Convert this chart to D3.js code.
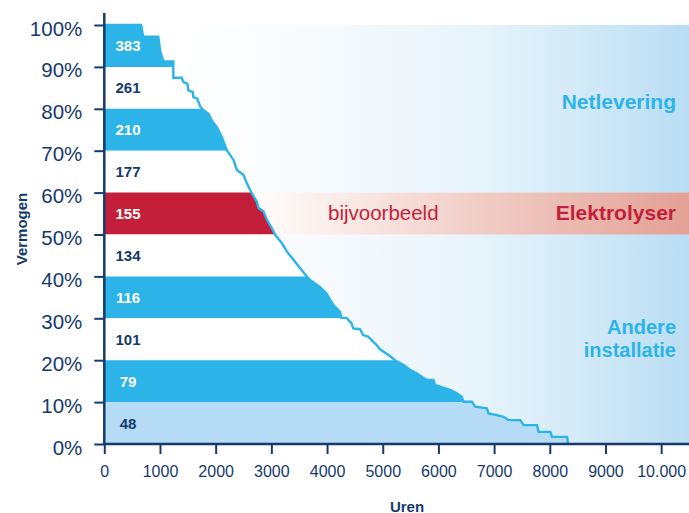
<!DOCTYPE html>
<html>
<head>
<meta charset="utf-8">
<script src="https://cdn.jsdelivr.net/npm/d3@7/dist/d3.min.js"></script>
<style>
  html, body { margin: 0; padding: 0; background: #fff; }
  svg { display: block; font-family: "Liberation Sans", Arial, sans-serif; }
</style>
</head>
<body>
<svg id="chart" width="689" height="513"></svg>
<script>
// ---- Data ----
// Load duration curve: [hours, capacity %]
const curveHours = [0,660,700,970,1000,1060,1240,1240,1390,1420,1490,1510,1590,1600,1670,1720,1760,1870,1930,2020,2110,2200,2320,2380,2500,2560,2650,2740,2770,2860,2920,3010,3070,3190,3280,3400,3520,3640,3700,3870,3990,4110,4230,4260,4350,4440,4470,4590,4650,4740,4890,4950,5130,5220,5310,5400,5490,5610,5790,5910,5940,6030,6210,6330,6420,6450,6600,6660,6870,6900,7050,7170,7260,7470,7530,7770,7800,8010,8040,8310,8330];
const curvePct   = [100,100,97.2,97.2,94.0,91.3,91.3,87.4,87.4,86.4,86.0,84.4,84.0,82.8,82.4,80.6,79.9,78.8,77.2,75.6,73.3,70.1,67.8,65.4,64.2,62.2,59.8,57.8,56.3,55.5,53.5,51.5,49.9,47.9,45.9,43.9,41.9,39.9,39.1,37.5,35.9,33.2,31.6,30.1,30.1,28.8,27.6,27.4,26.0,25.6,23.6,22.6,21.0,20.0,19.3,18.6,17.7,16.9,15.3,15.3,14.1,13.7,12.9,12.1,11.3,10.1,10.1,8.9,8.5,7.3,6.9,6.5,5.7,5.7,4.5,4.5,2.9,2.9,1.7,1.7,0];

// Bands (10% capacity slices), lower bound %, label value, band type
const bandLow    = [90, 80, 70, 60, 50, 40, 30, 20, 10, 0];
const bandValues = [383, 261, 210, 177, 155, 134, 116, 101, 79, 48];
const bandType   = ["blue","white","blue","white","red","white","blue","white","blue","light"];

const xTicks = [0,1000,2000,3000,4000,5000,6000,7000,8000,9000,10000];
const yTicks = [0,10,20,30,40,50,60,70,80,90,100];

const regionLabels = ["Netlevering", "Elektrolyser", "Andere", "installatie"];
const exampleLabel = "bijvoorbeeld";
const xTitle = "Uren";
const yTitle = "Vermogen";

// ---- Styles ----
const NAVY = "#163a6c";
const BLUE = "#2cb4e8";
const RED = "#c41f3a";
const LIGHT = "#b5dcf4";
const fillFor = { blue: BLUE, white: "#ffffff", red: RED, light: LIGHT };
const textFor = { blue: "#ffffff", white: NAVY, red: "#ffffff", light: NAVY };

const svg = d3.select("#chart");
const x = d3.scaleLinear().domain([0, 10500]).range([104.3, 689]);
const y = d3.scaleLinear().domain([0, 100]).range([444, 25]);

const defs = svg.append("defs");
const bg = defs.append("linearGradient").attr("id", "bgGrad")
  .attr("gradientUnits", "userSpaceOnUse")
  .attr("x1", x(0)).attr("x2", 689).attr("y1", 0).attr("y2", 0);
[[0.12, "#ffffff"], [0.42, "#f4f9fd"], [0.63, "#e8f4fb"], [0.81, "#d3eaf7"], [1, "#b9ddf3"]]
  .forEach(s => bg.append("stop").attr("offset", s[0]).attr("stop-color", s[1]));

const rg = defs.append("linearGradient").attr("id", "redGrad")
  .attr("gradientUnits", "userSpaceOnUse")
  .attr("x1", 270).attr("x2", 689).attr("y1", 0).attr("y2", 0);
rg.append("stop").attr("offset", "0").attr("stop-color", "#fefaf9");
rg.append("stop").attr("offset", "1").attr("stop-color", "#e3a094");

// background
svg.append("rect")
  .attr("x", x(0)).attr("y", y(100))
  .attr("width", 689 - x(0)).attr("height", y(0) - y(100))
  .attr("fill", "url(#bgGrad)");

// electrolyser band background
svg.append("rect")
  .attr("x", x(0)).attr("y", y(60))
  .attr("width", 689 - x(0)).attr("height", y(50) - y(60))
  .attr("fill", "url(#redGrad)");

const pts = curveHours.map((h, i) => [h, curvePct[i]]);
const area = d3.area()
  .y(d => y(d[1]))
  .x0(x(0))
  .x1(d => x(d[0]));

bandLow.forEach((lo, i) => {
  const id = "clip" + i;
  defs.append("clipPath").attr("id", id)
    .append("rect")
    .attr("x", x(0)).attr("y", y(lo + 10))
    .attr("width", 689 - x(0)).attr("height", y(lo) - y(lo + 10));
  svg.append("path")
    .datum(pts)
    .attr("d", area)
    .attr("fill", fillFor[bandType[i]])
    .attr("clip-path", `url(#${id})`);
});

// curve line
const line = d3.line().x(d => x(d[0])).y(d => y(d[1]));
svg.append("path")
  .datum(pts)
  .attr("d", line)
  .attr("fill", "none")
  .attr("stroke", BLUE)
  .attr("stroke-width", 2.4)
  .attr("stroke-linejoin", "miter");

// band value labels
svg.append("g").selectAll("text")
  .data(bandValues)
  .join("text")
  .attr("x", 128)
  .attr("y", (d, i) => (y(bandLow[i]) + y(bandLow[i] + 10)) / 2 + 5.5)
  .attr("text-anchor", "middle")
  .attr("font-size", 15)
  .attr("font-weight", "bold")
  .attr("fill", (d, i) => textFor[bandType[i]])
  .text(d => d);

// axes
const yAxis = d3.axisLeft(y).tickValues(yTicks).tickSize(10).tickSizeOuter(0)
  .tickFormat(d => d + "%");
const gy = svg.append("g").attr("transform", `translate(${x(0)},0)`).call(yAxis);
gy.select(".domain").remove();
gy.selectAll(".tick line").attr("stroke", NAVY).attr("stroke-width", 2);
gy.selectAll(".tick text")
  .attr("x", -22).attr("dy", 10)
  .attr("font-size", 20.5).attr("fill", NAVY)
  .attr("font-family", "'Liberation Sans', Arial, sans-serif");
svg.append("line")
  .attr("x1", x(0)).attr("x2", x(0))
  .attr("y1", y(0) + 1).attr("y2", 13)
  .attr("stroke", NAVY).attr("stroke-width", 2.5);

const xAxis = d3.axisBottom(x).tickValues(xTicks).tickSize(10).tickSizeOuter(0)
  .tickFormat(d => d === 10000 ? "10.000" : String(d));
const gx = svg.append("g").attr("transform", `translate(0,${y(0)})`).call(xAxis);
gx.select(".domain").remove();
gx.selectAll(".tick line").attr("stroke", NAVY).attr("stroke-width", 2);
gx.selectAll(".tick text")
  .attr("y", 33).attr("dy", 0)
  .attr("font-size", 16).attr("fill", NAVY)
  .attr("font-family", "'Liberation Sans', Arial, sans-serif");
svg.append("line")
  .attr("x1", x(0) - 1).attr("x2", 689)
  .attr("y1", y(0)).attr("y2", y(0))
  .attr("stroke", NAVY).attr("stroke-width", 2.5);

// titles
svg.append("text")
  .attr("x", 407).attr("y", 511.5)
  .attr("text-anchor", "middle")
  .attr("font-size", 15).attr("font-weight", "bold").attr("fill", NAVY)
  .text(xTitle);
svg.append("text")
  .attr("transform", `translate(27,229) rotate(-90)`)
  .attr("text-anchor", "middle")
  .attr("font-size", 15).attr("font-weight", "bold").attr("fill", NAVY)
  .text(yTitle);

// region labels
const rx = 676;
svg.append("text").attr("x", rx).attr("y", 108.5)
  .attr("text-anchor", "end").attr("font-size", 21).attr("font-weight", "bold")
  .attr("fill", BLUE).text(regionLabels[0]);
svg.append("text").attr("x", rx).attr("y", 220)
  .attr("text-anchor", "end").attr("font-size", 21).attr("font-weight", "bold")
  .attr("fill", RED).text(regionLabels[1]);
svg.append("text").attr("x", rx).attr("y", 333.5)
  .attr("text-anchor", "end").attr("font-size", 20).attr("font-weight", "bold")
  .attr("fill", BLUE).text(regionLabels[2]);
svg.append("text").attr("x", rx).attr("y", 356.5)
  .attr("text-anchor", "end").attr("font-size", 20).attr("font-weight", "bold")
  .attr("fill", BLUE).text(regionLabels[3]);
svg.append("text").attr("x", 328).attr("y", 220)
  .attr("font-size", 20.5).attr("fill", RED).text(exampleLabel);
</script>
</body>
</html>
